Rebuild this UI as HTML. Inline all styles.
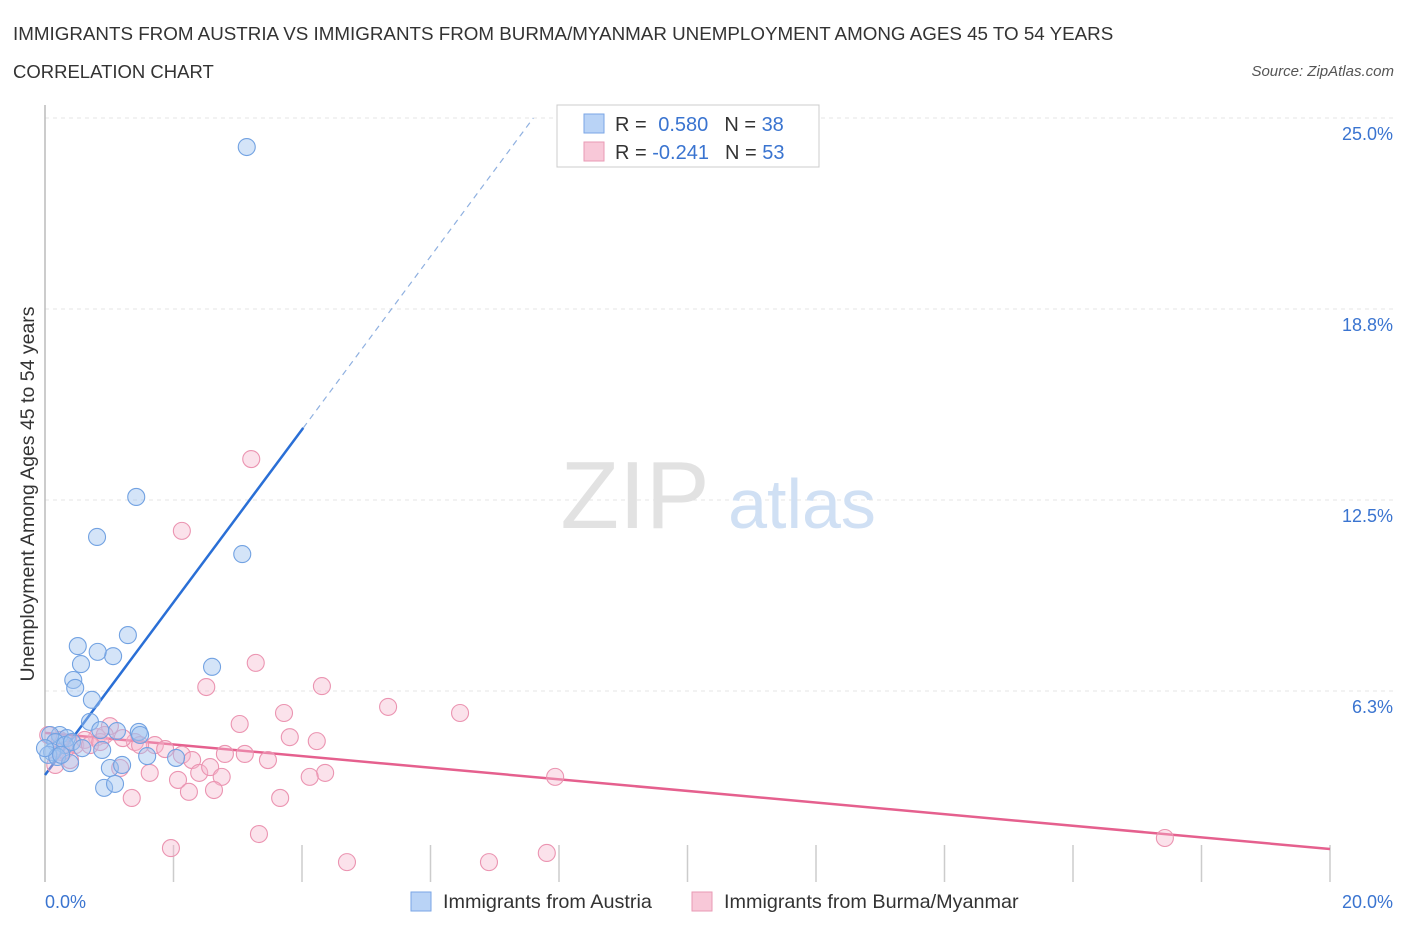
<!DOCTYPE html>
<html><head><meta charset="utf-8"><style>
body{margin:0;background:#fff;font-family:"Liberation Sans",sans-serif;}
svg text{font-family:"Liberation Sans",sans-serif;}
</style></head><body>
<svg width="1406" height="930" xmlns="http://www.w3.org/2000/svg">
<text x="13" y="40" font-size="18.8" fill="#333">IMMIGRANTS FROM AUSTRIA VS IMMIGRANTS FROM BURMA/MYANMAR UNEMPLOYMENT AMONG AGES 45 TO 54 YEARS</text>
<text x="13" y="78" font-size="18.5" fill="#333">CORRELATION CHART</text>
<text x="1394" y="76" font-size="15" fill="#555" font-style="italic" text-anchor="end">Source: ZipAtlas.com</text>
<g id="grid"></g>
<text x="635" y="528" font-size="96" font-family="Liberation Serif" fill="#e2e2e2" text-anchor="middle">ZIP</text>
<text x="802" y="528" font-size="70" fill="#d0e0f4" text-anchor="middle">atlas</text>
<line x1="45" y1="105" x2="45" y2="882" stroke="#bbb" stroke-width="1.5"/>
<text transform="translate(34,494) rotate(-90)" font-size="19.5" fill="#333" text-anchor="middle">Unemployment Among Ages 45 to 54 years</text>
<text x="45" y="908" font-size="18" fill="#3a74d0">0.0%</text>
<text x="1393" y="908" font-size="18" fill="#3a74d0" text-anchor="end">20.0%</text>
<g id="lines"></g>
<g id="pts"></g>
<rect x="557" y="105" width="262" height="62" fill="#fff" stroke="#ccc"/>
<rect x="584" y="114" width="20" height="19" fill="#b9d3f6" stroke="#7aa6e6"/>
<rect x="584" y="142" width="20" height="19" fill="#f8c8d8" stroke="#e99ab4"/>
<text x="615" y="131" font-size="20" fill="#333">R = <tspan fill="#3a74d0" dx="6">0.580</tspan><tspan dx="16">N = </tspan><tspan fill="#3a74d0">38</tspan></text>
<text x="615" y="159" font-size="20" fill="#333">R = <tspan fill="#3a74d0" dx="0">-0.241</tspan><tspan dx="16">N = </tspan><tspan fill="#3a74d0">53</tspan></text>
<rect x="411" y="892" width="20" height="19" fill="#b9d3f6" stroke="#7aa6e6"/>
<text x="443" y="908" font-size="19.8" fill="#333">Immigrants from Austria</text>
<rect x="692" y="892" width="20" height="19" fill="#f8c8d8" stroke="#e99ab4"/>
<text x="724" y="908" font-size="19.8" fill="#333">Immigrants from Burma/Myanmar</text>
</svg>
<script>
const yTicks=[6.25,12.5,18.75,25];
const yTickLabels=["6.3%","12.5%","18.8%","25.0%"];
const xTicks=[2,4,6,8,10,12,14,16,18,20];
const austriaX=[3.14,1.42,0.81,3.07,1.29,0.51,1.06,0.82,0.56,2.60,0.44,0.47,0.73,0.70,1.46,1.12,0.23,0.08,0.34,0.16,0.31,0.89,0.42,0.11,0.05,0.19,0.39,1.01,1.20,2.04,1.59,0.92,1.09,0.25,0.00,0.86,0.58,1.48];
const austriaY=[24.05,12.60,11.29,10.73,8.08,7.72,7.39,7.53,7.13,7.04,6.61,6.35,5.96,5.24,4.91,4.94,4.81,4.81,4.71,4.58,4.48,4.32,4.58,4.25,4.16,4.09,3.89,3.73,3.83,4.06,4.12,3.08,3.21,4.16,4.38,4.97,4.38,4.81];
const burmaX=[3.21,2.13,3.28,2.51,4.31,5.34,6.46,3.72,3.03,1.01,3.81,4.23,0.81,1.40,1.71,1.87,2.13,2.29,2.80,3.11,3.47,1.63,2.07,2.40,2.57,2.75,4.36,4.12,7.94,2.24,2.63,1.35,3.66,3.33,1.96,4.70,6.91,7.81,17.43,1.17,0.23,0.05,0.47,0.62,0.39,0.31,0.70,0.86,1.21,1.48,0.16,0.26,0.93];
const burmaY=[13.84,11.49,7.17,6.38,6.41,5.73,5.53,5.53,5.17,5.10,4.74,4.61,4.74,4.58,4.48,4.35,4.16,3.99,4.19,4.19,3.99,3.57,3.34,3.57,3.76,3.44,3.57,3.44,3.44,2.95,3.01,2.75,2.75,1.57,1.11,0.65,0.65,0.95,1.44,3.73,4.65,4.81,4.48,4.65,3.99,4.32,4.48,4.58,4.71,4.48,3.83,4.25,4.81];
const austriaTrend=[[0,3.5],[4.02,14.86]];
const austriaTrendExt=[[4.02,14.86],[7.6,25]];
const burmaTrend=[[0,4.88],[20,1.08]];
const NS="http://www.w3.org/2000/svg";
const sx=v=>45+v/20*1285, sy=v=>882-v/25*764;
function mk(t,a,p){const e=document.createElementNS(NS,t);for(const k in a)e.setAttribute(k,a[k]);p.appendChild(e);return e;}
const g=document.getElementById('grid');
yTicks.forEach((t,i)=>{
 const l=mk('line',{x1:45,x2:1395,y1:sy(t),y2:sy(t),stroke:'#e4e4e4','stroke-dasharray':'4,4'},g);
 
 
 const tx=mk('text',{x:1393,y:sy(t)+22,'font-size':18,fill:'#3a74d0','text-anchor':'end'},g);
 tx.textContent=yTickLabels[i];
 
 
});
xTicks.forEach(t=>{
 const l=mk('line',{x1:sx(t),x2:sx(t),y1:845,y2:882,stroke:'#ccc','stroke-width':1.5},g);
 
 
});
const p=document.getElementById('pts');
function pts(X,Y,fill,stroke,name){X.forEach((x,i)=>{
 const c=mk('circle',{cx:sx(x),cy:sy(Y[i]),r:8.5,fill:fill,stroke:stroke,'stroke-width':1.1},p);
 
 
});}
pts(burmaX,burmaY,'rgba(246,182,204,0.4)','#eb94b1','point-burma');
pts(austriaX,austriaY,'rgba(160,196,240,0.45)','#72a2e2','point-austria');
const L=document.getElementById('lines');
function ln(a,st,dash,name,w){const e=mk('line',{x1:sx(a[0][0]),y1:sy(a[0][1]),x2:sx(a[1][0]),y2:sy(a[1][1]),stroke:st,'stroke-width':w},L);if(dash)e.setAttribute('stroke-dasharray',dash);
 
 }
ln(burmaTrend,'#e5608e',null,'trend-burma',2.5);
ln(austriaTrend,'#2a6fd6',null,'trend-austria',2.5);
ln(austriaTrendExt,'#8fb0e0','6,5','trend-austria-extension',1.2);
</script>
</body></html>
